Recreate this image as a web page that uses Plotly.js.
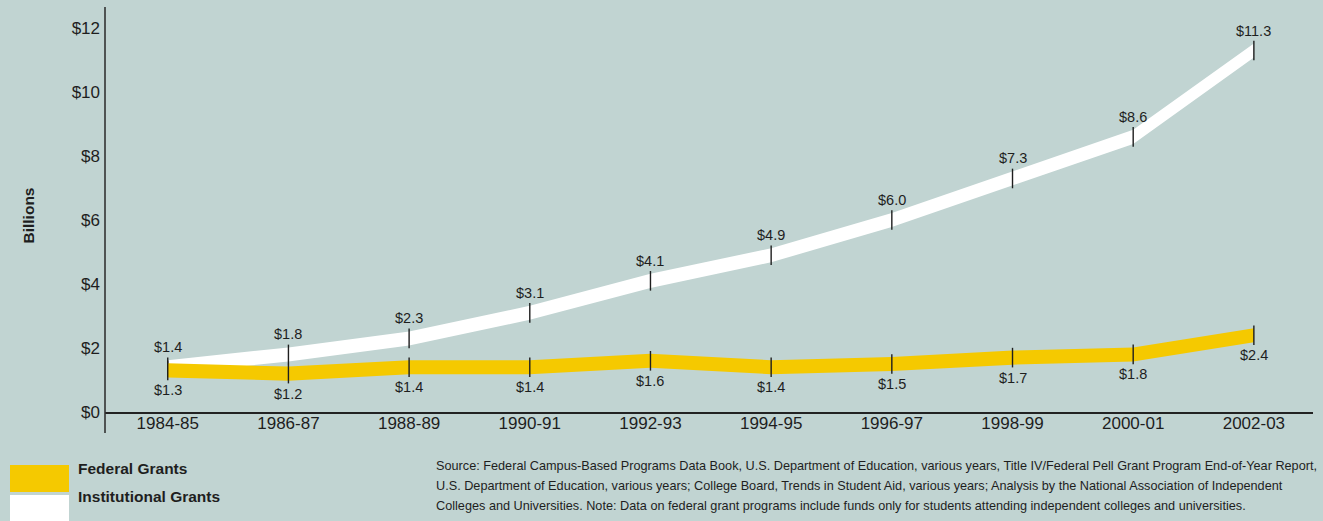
<!DOCTYPE html>
<html>
<head>
<meta charset="utf-8">
<script src="https://cdn.plot.ly/plotly-3.0.1.min.js"></script>
<style>
html,body{margin:0;padding:0;background:#c1d4d2;}
#chart{width:1323px;height:521px;}
</style>
</head>
<body>
<div id="chart"></div>
<script>
const years = ["1984-85","1986-87","1988-89","1990-91","1992-93","1994-95","1996-97","1998-99","2000-01","2002-03"];
const institutional = [1.4, 1.8, 2.3, 3.1, 4.1, 4.9, 6.0, 7.3, 8.6, 11.3];
const federal = [1.3, 1.2, 1.4, 1.4, 1.6, 1.4, 1.5, 1.7, 1.8, 2.4];
const yTickVals = [0, 2, 4, 6, 8, 10, 12];
const yTickText = ["$0", "$2", "$4", "$6", "$8", "$10", "$12"];
const seriesNames = ["Federal Grants", "Institutional Grants"];
const yAxisTitle = "Billions";
const sourceLines = [
  "Source: Federal Campus-Based Programs Data Book, U.S. Department of Education, various years, Title IV/Federal Pell Grant Program End-of-Year Report,",
  "U.S. Department of Education, various years; College Board, Trends in Student Aid, various years; Analysis by the National Association of Independent",
  "Colleges and Universities. Note: Data on federal grant programs include funds only for students attending independent colleges and universities."
];

const FONT = "'Liberation Sans', Arial, sans-serif";
const BG = "#c1d4d2";
const YELLOW = "#f5c900";
const WHITE = "#ffffff";
const INK = "#1e1e1e";
const HALF = 0.22; // half band thickness (data units)

function band(vals, color) {
  return [
    {x: years, y: vals.map(v => v - HALF), type: "scatter", mode: "lines", line: {width: 0, color: color}, hoverinfo: "skip", showlegend: false},
    {x: years, y: vals.map(v => v + HALF), type: "scatter", mode: "lines", line: {width: 0, color: color}, fill: "tonexty", fillcolor: color, hoverinfo: "skip", showlegend: false}
  ];
}
function ticks(vals) {
  return {x: years, y: vals, type: "scatter", mode: "markers", hoverinfo: "skip", showlegend: false,
    marker: {symbol: "line-ns-open", size: 14, color: INK, line: {width: 1.4, color: INK}}};
}

const data = [
  ...band(institutional, WHITE), ticks(institutional),
  ...band(federal, YELLOW), ticks(federal)
];

const annotations = [];
institutional.forEach((v, i) => annotations.push({x: years[i], y: v, xref: "x", yref: "y", text: "$" + v.toFixed(1),
  showarrow: false, yshift: 20, font: {family: FONT, size: 14.5, color: INK}}));
federal.forEach((v, i) => annotations.push({x: years[i], y: v, xref: "x", yref: "y", text: "$" + v.toFixed(1),
  showarrow: false, yshift: -20, font: {family: FONT, size: 14.5, color: INK}}));

const L = 105, T = 7, W = 1208, H = 405;
const px = p => (p - L) / W;
const py = p => (T + H - p) / H;

annotations.push({xref: "paper", yref: "paper", x: px(17), y: py(216), text: "<b>" + yAxisTitle + "</b>", textangle: -90,
  showarrow: false, font: {family: FONT, size: 15.5, color: INK}});
annotations.push({xref: "paper", yref: "paper", x: px(76), y: py(479), xanchor: "left", text: "<b>" + seriesNames[0] + "</b>",
  showarrow: false, font: {family: FONT, size: 15.5, color: INK}});
annotations.push({xref: "paper", yref: "paper", x: px(76), y: py(507), xanchor: "left", text: "<b>" + seriesNames[1] + "</b>",
  showarrow: false, font: {family: FONT, size: 15.5, color: INK}});
const sourceY = [466, 486, 506];
sourceLines.forEach((t, i) => annotations.push({xref: "paper", yref: "paper", x: px(434), y: py(sourceY[i]), xanchor: "left",
  yanchor: "middle", align: "left", text: t, showarrow: false, font: {family: FONT, size: 12.7, color: INK}}));

const shapes = [
  {type: "rect", xref: "paper", yref: "paper", x0: px(10), x1: px(69), y0: py(465), y1: py(492), fillcolor: YELLOW, line: {width: 0}},
  {type: "rect", xref: "paper", yref: "paper", x0: px(10), x1: px(69), y0: py(495), y1: py(521), fillcolor: WHITE, line: {width: 0}},
  {type: "line", xref: "paper", yref: "paper", x0: 0, x1: 0, y0: py(433), y1: py(7), line: {width: 1.6, color: "#333"}}
];

const layout = {
  width: 1323, height: 521,
  margin: {l: L, r: 1323 - L - W, t: T, b: 521 - T - H},
  paper_bgcolor: BG, plot_bgcolor: BG,
  showlegend: false,
  font: {family: FONT, color: INK},
  xaxis: {type: "category", range: [-0.52, 9.49], showgrid: false, zeroline: false, showline: true,
    linecolor: "#222", linewidth: 1.6, ticks: "", tickfont: {family: FONT, size: 17, color: INK}, ticklabelstandoff: -5, fixedrange: true},
  yaxis: {range: [0, 12.66], showgrid: false, zeroline: false, showline: false, ticks: "",
    tickvals: yTickVals, ticktext: yTickText, tickfont: {family: FONT, size: 17, color: INK}, ticklabelstandoff: 4, fixedrange: true},
  annotations: annotations,
  shapes: shapes
};

Plotly.newPlot("chart", data, layout, {displayModeBar: false, staticPlot: true});
</script>
</body>
</html>
